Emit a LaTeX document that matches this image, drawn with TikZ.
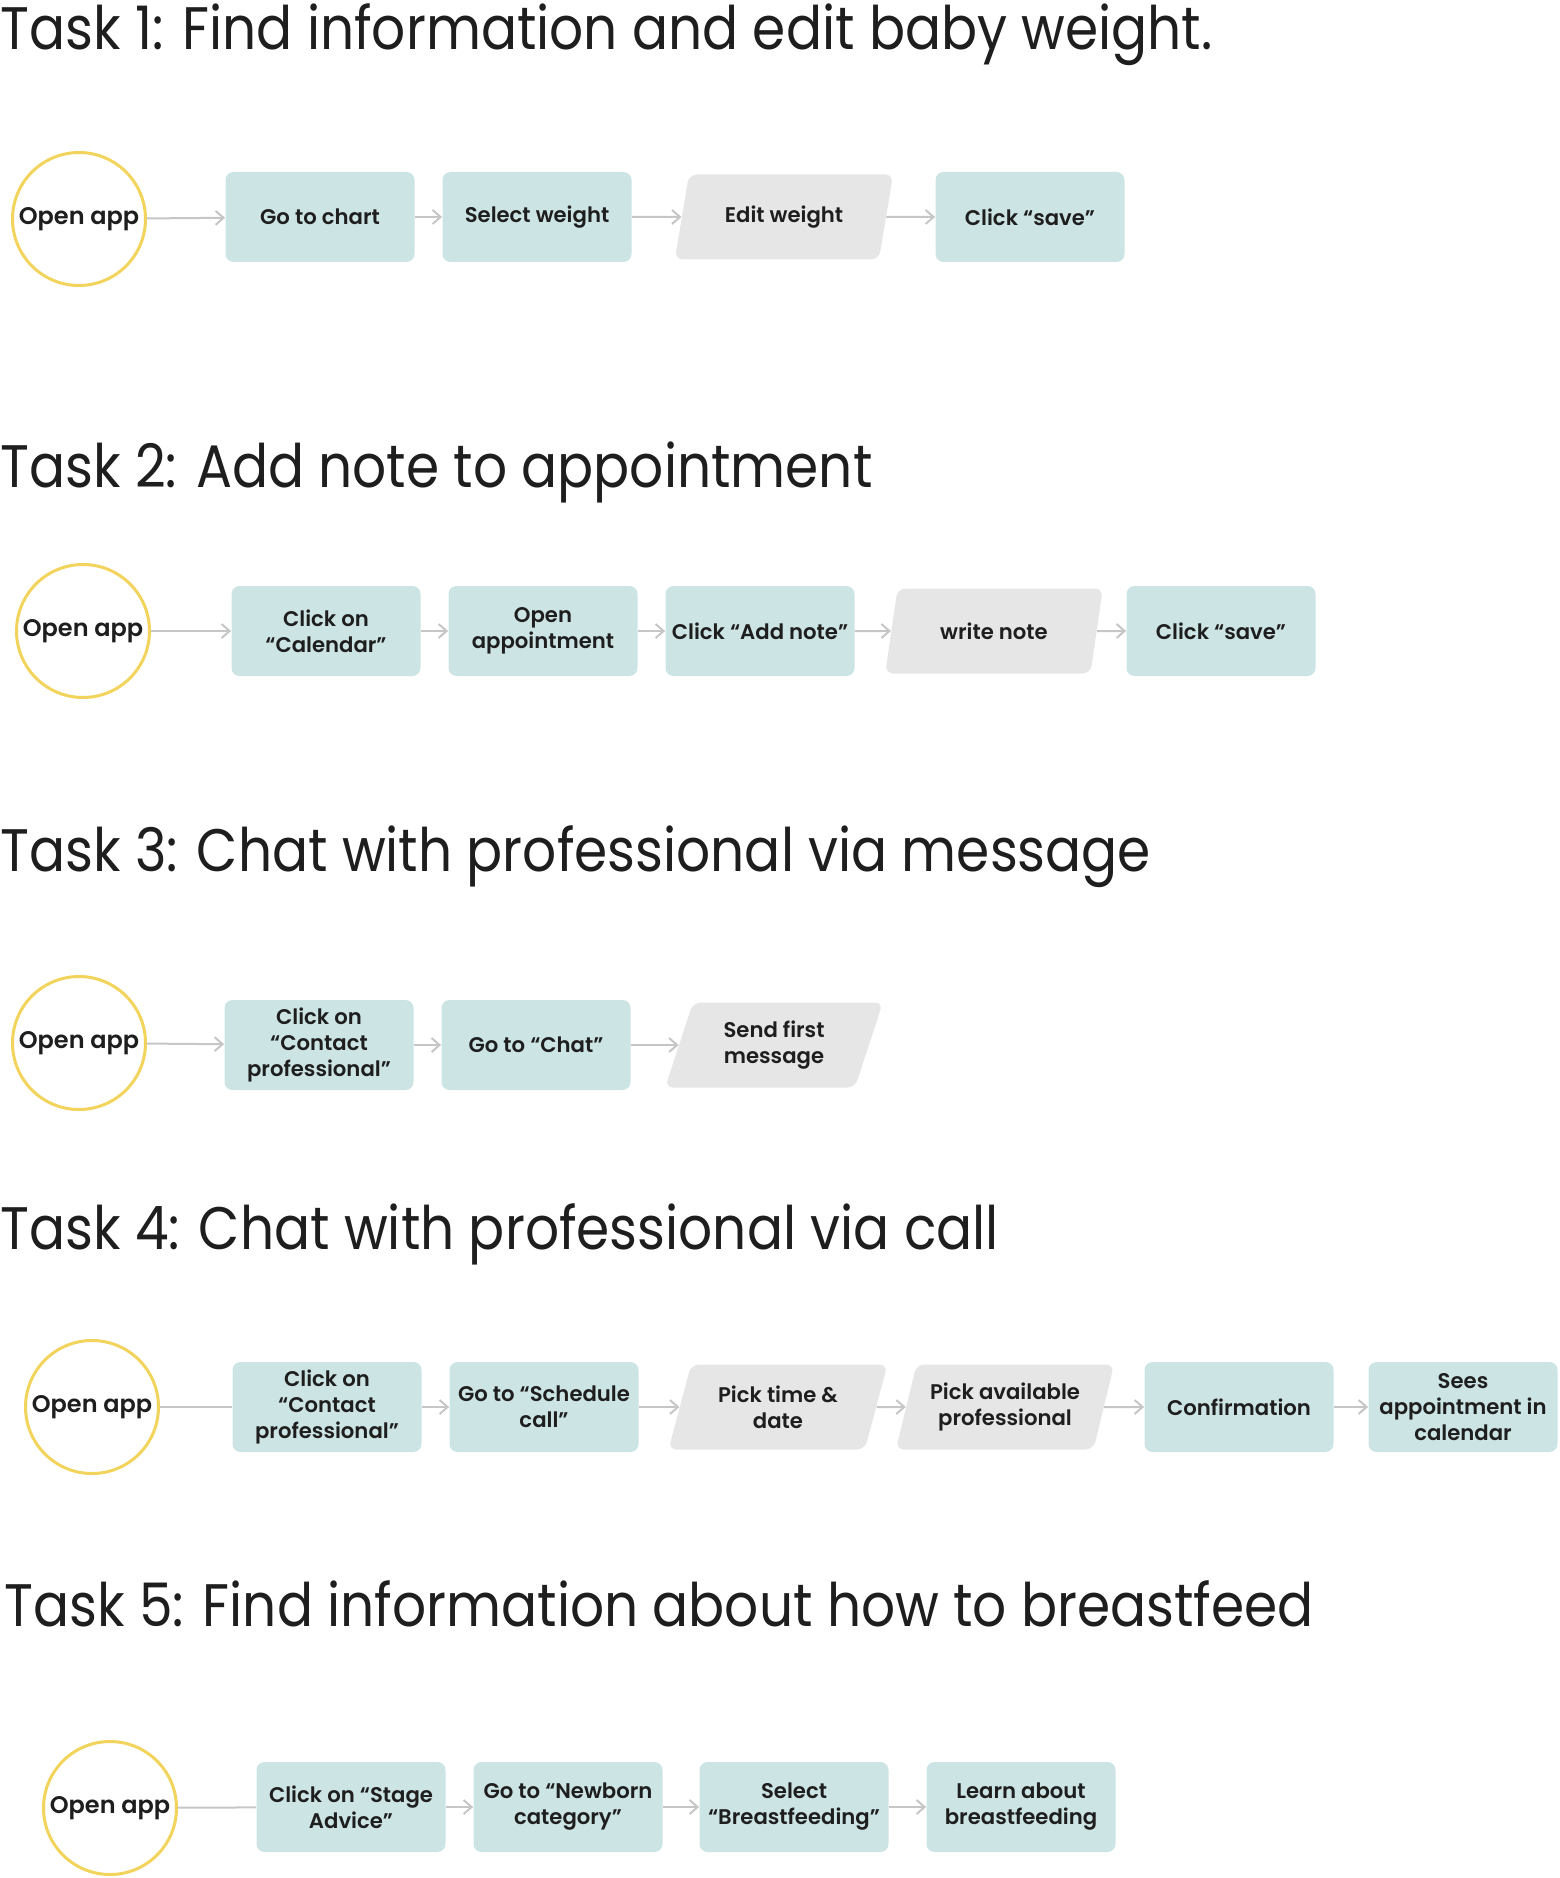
\documentclass[tikz,border=0pt]{standalone}
\usepackage{fontspec}
\setmainfont{Poppins}
\newfontfamily\titlefont{Poppins}[FakeStretch=0.89]
\newfontfamily\stepfont{Poppins SemiBold}
\newfontfamily\startfont{Poppins SemiBold}
\usepackage{tikz}
\usetikzlibrary{shapes.geometric,arrows.meta}
\definecolor{boxteal}{HTML}{CDE4E4}
\definecolor{boxgray}{HTML}{E6E6E6}
\definecolor{ringyellow}{HTML}{F2D45C}
\definecolor{linegray}{HTML}{C6C6C6}
\definecolor{inkblack}{HTML}{1E1E1E}

\begin{document}
\begin{tikzpicture}[x=0.5pt, y=-0.5pt,
    every node/.style={text=inkblack},
    tasktitle/.style={anchor=base west, inner sep=0pt, font={\titlefont\fontsize{30}{34}\selectfont}},
    startnode/.style={circle, draw=ringyellow, line width=1.5pt, fill=white, minimum size=66.5pt, inner sep=0pt, font={\startfont\fontsize{12}{14}\selectfont}},
    stepbox/.style={rectangle, rounded corners=4pt, fill=boxteal, minimum width=94.5pt, minimum height=45pt, inner sep=1pt, align=center, font={\stepfont\fontsize{10.6}{13}\selectfont}},
    inputbox/.style={trapezium, trapezium left angle=71, trapezium right angle=109, trapezium stretches=true, rounded corners=4pt, fill=boxgray, minimum width=109.5pt, minimum height=42.5pt, inner sep=1pt, align=center, font={\stepfont\fontsize{10.6}{13}\selectfont}},
    flow/.style={draw=linegray, line width=1pt, -{Straight Barb[length=4pt, width=7pt]}},
    flowplain/.style={draw=linegray, line width=1pt}]
  \useasboundingbox (0,0) rectangle (1559,1878);

  \node[tasktitle] (T1) at (0,50) {Task 1: Find information and edit baby weight.};
  \node[startnode] (A1) at (79,219) {Open app};
  \node[stepbox] (B1) at (320,217) {Go to chart};
  \node[stepbox] (C1) at (537,217) {Select weight};
  \node[inputbox] (D1) at (784,217) {Edit weight};
  \node[stepbox] (E1) at (1030,217) {Click “save”};
  \draw[flow] (A1) -- (B1);
  \draw[flow] (B1) -- (C1);
  \draw[flow] (C1) -- (D1);
  \draw[flow] (D1) -- (E1);

  \node[tasktitle] (T2) at (0,487) {Task 2: Add note to appointment};
  \node[startnode] (A2) at (83,631) {Open app};
  \node[stepbox] (B2) at (326,631) {Click on\\“Calendar”};
  \node[stepbox] (C2) at (543,631) {Open\\appointment};
  \node[stepbox] (D2) at (760,631) {Click “Add note”};
  \node[inputbox] (E2) at (994,631) {write note};
  \node[stepbox] (F2) at (1221,631) {Click “save”};
  \draw[flow] (A2) -- (B2);
  \draw[flow] (B2) -- (C2);
  \draw[flow] (C2) -- (D2);
  \draw[flow] (D2) -- (E2);
  \draw[flow] (E2) -- (F2);

  \node[tasktitle] (T3) at (0,871) {Task 3: Chat with professional via message};
  \node[startnode] (A3) at (79,1043) {Open app};
  \node[stepbox] (B3) at (319,1045) {Click on\\“Contact\\professional”};
  \node[stepbox] (C3) at (536,1045) {Go to “Chat”};
  \node[inputbox] (D3) at (774,1045) {Send first\\message};
  \draw[flow] (A3) -- (B3);
  \draw[flow] (B3) -- (C3);
  \draw[flow] (C3) -- (D3);

  \node[tasktitle] (T4) at (0,1249) {Task 4: Chat with professional via call};
  \node[startnode] (A4) at (92,1407) {Open app};
  \node[stepbox] (B4) at (327,1407) {Click on\\“Contact\\professional”};
  \node[stepbox] (C4) at (544,1407) {Go to “Schedule\\call”};
  \node[inputbox] (D4) at (778,1407) {Pick time \&\\date};
  \node[inputbox] (E4) at (1005,1407) {Pick available\\professional};
  \node[stepbox] (F4) at (1239,1407) {Confirmation};
  \node[stepbox] (G4) at (1463,1407) {Sees\\appointment in\\calendar};
  \draw[flowplain] (A4) -- (B4);
  \draw[flow] (B4) -- (C4);
  \draw[flow] (C4) -- (D4);
  \draw[flow] (D4) -- (E4);
  \draw[flow] (E4) -- (F4);
  \draw[flow] (F4) -- (G4);

  \node[tasktitle] (T5) at (4,1626) {Task 5: Find information about how to breastfeed};
  \node[startnode] (A5) at (110,1808) {Open app};
  \node[stepbox] (B5) at (351,1807) {Click on “Stage\\Advice”};
  \node[stepbox] (C5) at (568,1807) {Go to “Newborn\\category”};
  \node[stepbox] (D5) at (794,1807) {Select\\“Breastfeeding”};
  \node[stepbox] (E5) at (1021,1807) {Learn about\\breastfeeding};
  \draw[flowplain] (A5) -- (B5);
  \draw[flow] (B5) -- (C5);
  \draw[flow] (C5) -- (D5);
  \draw[flow] (D5) -- (E5);
\end{tikzpicture}
\end{document}
